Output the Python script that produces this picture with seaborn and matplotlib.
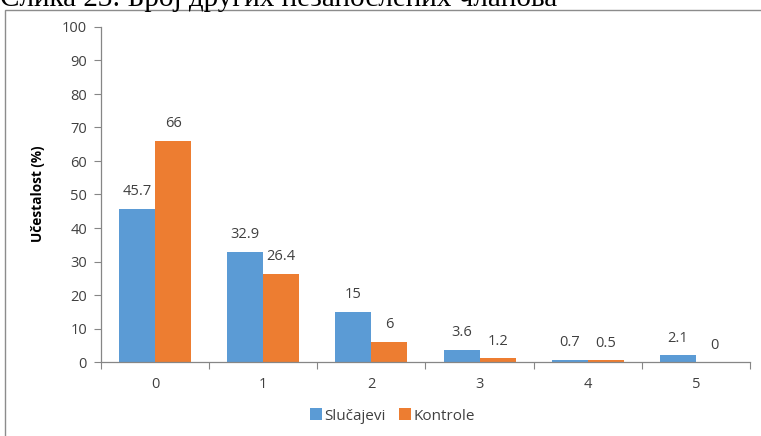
import matplotlib
matplotlib.use("Agg")
import matplotlib.pyplot as plt
import matplotlib.patches as mpatches
from matplotlib.lines import Line2D
import seaborn as sns
import pandas as pd

# Number of other members: share (%) among cases and controls
categories = ["0", "1", "2", "3", "4", "5"]
slucajevi = [45.7, 32.9, 15, 3.6, 0.7, 2.1]
kontrole = [66, 26.4, 6, 1.2, 0.5, 0]
series_names = ["Slučajevi", "Kontrole"]
y_ticks = [0, 10, 20, 30, 40, 50, 60, 70, 80, 90, 100]

title_text = "Слика 23: Број других незапослених чланова"
y_label = "Učestalost (%)"

colors = ["#5B9BD5", "#ED7D31"]
text_color = "#404040"
axis_color = "#868686"

df = pd.DataFrame({
    "kategorija": categories * 2,
    "grupa": [series_names[0]] * len(categories) + [series_names[1]] * len(categories),
    "vrednost": slucajevi + kontrole,
})

sns.set_theme(style="white")
plt.rcParams["font.family"] = ["Open Sans", "DejaVu Sans"]

W, H = 761, 436
fig = plt.figure(figsize=(W / 100, H / 100), dpi=100)
ax = fig.add_axes([101 / W, 1 - 362 / H, (750 - 101) / W, (362 - 27) / H])

sns.barplot(data=df, x="kategorija", y="vrednost", hue="grupa",
            order=categories, hue_order=series_names, palette=colors,
            width=0.667, gap=0, linewidth=0, errorbar=None, legend=False,
            saturation=1, ax=ax)

# value labels above each bar
for cont in ax.containers:
    for bar in cont:
        h = bar.get_height()
        lab = f"{h:g}"
        ax.annotate(lab, (bar.get_x() + bar.get_width() / 2, h),
                    xytext=(0, 12.2), textcoords="offset points",
                    ha="center", va="center", fontsize=10.5, color=text_color)

ax.set_ylim(0, 100)
ax.set_xlim(-0.5, len(categories) - 0.5)
ax.set_yticks(y_ticks)
ax.set_yticklabels([str(t) for t in y_ticks])
ax.set_xlabel("")
ax.set_ylabel("")

# category boundary ticks on the x axis
ax.set_xticks([i - 0.5 for i in range(len(categories) + 1)], minor=True)
ax.tick_params(axis="x", which="major", length=0, pad=10.5, labelsize=10.5,
               labelcolor=text_color)
ax.tick_params(axis="x", which="minor", length=5, width=0.8, color=axis_color,
               direction="out", bottom=True)
ax.tick_params(axis="y", which="major", length=5, width=0.8, color=axis_color,
               direction="out", left=True, pad=5.0, labelsize=10.5,
               labelcolor=text_color)

for side in ["top", "right"]:
    ax.spines[side].set_visible(False)
for side in ["left", "bottom"]:
    ax.spines[side].set_color(axis_color)
    ax.spines[side].set_linewidth(0.9)

fig.text(38 / W, 1 - 194 / H, y_label, rotation=90, ha="center", va="center",
         fontsize=9.8, fontweight="bold", color="black")

# legend under the plot
handles = [Line2D([0], [0], marker="s", linestyle="none", markersize=8.5,
                  markerfacecolor=c, markeredgewidth=0) for c in colors]
fig.legend(handles, series_names, loc="center", ncol=2, frameon=False,
           bbox_to_anchor=(393 / W, 1 - 416 / H), handlelength=0.6,
           handletextpad=0.25, columnspacing=1.0, fontsize=11,
           labelcolor=text_color)

# chart frame
fig.patches.append(mpatches.Rectangle((5 / W, -0.1), 1.2, 1 - 10 / H + 0.1,
                                      transform=fig.transFigure, fill=False,
                                      edgecolor="#8c8c8c", linewidth=1.0))

# caption text above the frame
fig.text(0 / W, 1 - 6.5 / H, title_text, ha="left", va="baseline",
         fontsize=21, family=["Liberation Serif", "DejaVu Serif"], color="black")

fig.savefig("out.png", dpi=100)
